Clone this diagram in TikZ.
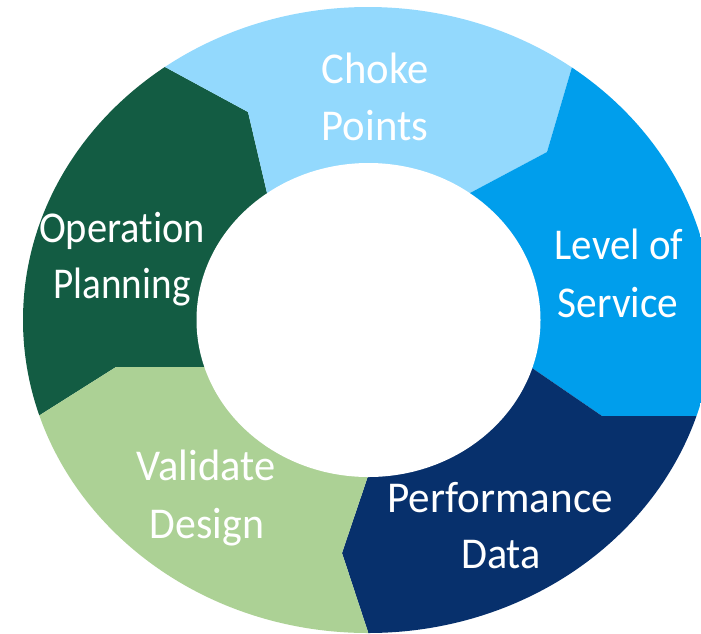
\documentclass[tikz,border=0pt]{standalone}
\usepackage{fontspec}
\setmainfont{Carlito}[Ligatures=NoCommon]
\usetikzlibrary{calc}
\definecolor{cLightBlue}{HTML}{93D9FD}
\definecolor{cBlue}{HTML}{009EEC}
\definecolor{cNavy}{HTML}{07306C}
\definecolor{cDarkGreen}{HTML}{135C43}
\definecolor{cLightGreen}{HTML}{ACD195}
\newcommand{\sq}[2]{\scalebox{#1}[1]{#2}}
\tikzset{
  lbl/.style={text=white, font=\fontsize{44}{57}\selectfont, anchor=base, inner sep=0pt},
  seg/.style={draw=none}
}
\begin{document}
\begin{tikzpicture}[x=1pt,y=-1pt]
\useasboundingbox (0,0) rectangle (701,633);
% centre
\coordinate (C) at (368,320);
% boundaries: inner, middle, outer
\coordinate (I1) at (204,367); \coordinate (M1) at (116,367); \coordinate (O1) at (40,415);
\coordinate (I2) at (267,193); \coordinate (M2) at (248,112); \coordinate (O2) at (165,67);
\coordinate (I3) at (470,193); \coordinate (M3) at (547,152); \coordinate (O3) at (572,67);
\coordinate (I4) at (532,368); \coordinate (M4) at (602,416); \coordinate (O4) at (697,416);
\coordinate (I5) at (368,476); \coordinate (M5) at (342,553); \coordinate (O5) at (368,632);
\foreach \k in {1,...,5}{
  \coordinate (J\k) at ($(I\k)!-0.4!(M\k)$);
  \coordinate (F\k) at ($(C)!2.2!(O\k)$);
}
\begin{scope}
  \clip (C) ellipse [x radius=345pt, y radius=313pt];
  % Operation Planning
  \fill[cDarkGreen, seg] (C) -- (J1) -- (M1) -- (O1) -- (F1) -- (F2) -- (O2) -- (M2) -- (J2) -- cycle;
  % Choke Points
  \fill[cLightBlue, seg] (C) -- (J2) -- (M2) -- (O2) -- (F2) -- (F3) -- (O3) -- (M3) -- (J3) -- cycle;
  % Level of Service
  \fill[cBlue, seg] (C) -- (J3) -- (M3) -- (O3) -- (F3) -- (F4) -- (O4) -- (M4) -- (J4) -- cycle;
  % Performance Data
  \fill[cNavy, seg] (C) -- (J4) -- (M4) -- (O4) -- (F4) -- (F5) -- (O5) -- (M5) -- (J5) -- cycle;
  % Validate Design
  \fill[cLightGreen, seg] (C) -- (J5) -- (M5) -- (O5) -- (F5) -- (F1) -- (O1) -- (M1) -- (J1) -- cycle;
\end{scope}
\fill[white] (368.5,320) ellipse [x radius=172pt, y radius=157pt];
% labels
\node[lbl] (choke) at (375,83) {\sq{0.97}{Choke}};
\node[lbl] (points) at (375,140) {\sq{0.97}{Points}};
\node[lbl] (level) at (619,259) {\sq{0.93}{Level of}};
\node[lbl] (service) at (618,317) {\sq{0.94}{Service}};
\node[lbl] (perf) at (500,512) {\sq{0.98}{Performance}};
\node[lbl] (data) at (501,568) {\sq{0.96}{Data}};
\node[lbl] (valid) at (206,480) {\sq{0.965}{Validate}};
\node[lbl] (design) at (207,538) {\sq{0.95}{Design}};
\node[lbl] (oper) at (122,242) {\sq{0.92}{Operation}};
\node[lbl] (plan) at (122,298) {\sq{0.89}{Planning}};
\end{tikzpicture}
\end{document}
